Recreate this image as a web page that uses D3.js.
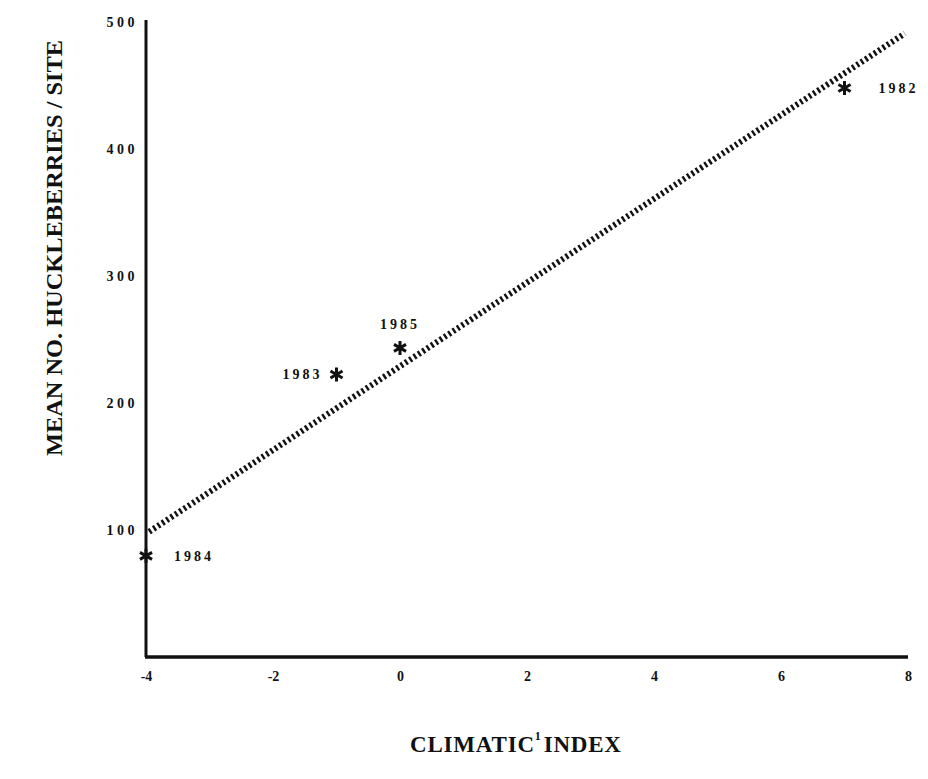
<!DOCTYPE html>
<html>
<head>
<meta charset="utf-8">
<script src="https://cdn.jsdelivr.net/npm/d3@7"></script>
<style>
  body { margin: 0; background: #fff; }
  svg { display: block; }
  text { font-family: "Liberation Serif", "Times New Roman", serif; font-weight: bold; fill: #111; }
</style>
</head>
<body>
<svg id="chart"></svg>
<script>
// observed years
const years = ["1984", "1983", "1985", "1982"];
const climIndex = [-4, -1, 0, 7];
const berries = [79, 222, 243, 448];

// fitted line ends
const fitX = [-3.95, 7.95];
const fitY = [98, 491];

const xTicks = [-4, -2, 0, 2, 4, 6, 8];
const yTicks = [100, 200, 300, 400, 500];

const width = 928;
const height = 779;

const x = d3.scaleLinear().domain([-4, 8]).range([146, 908]);
const y = d3.scaleLinear().domain([0, 500]).range([656, 22]);

const svg = d3.select("#chart")
    .attr("width", width)
    .attr("height", height);

// axes
const yAxis = g => g
    .attr("transform", `translate(${x(-4)},0)`)
    .call(d3.axisLeft(y).tickValues(yTicks).tickSize(0).tickPadding(8).tickSizeOuter(0))
    .call(g => g.select(".domain").attr("stroke", "#111").attr("stroke-width", 3)
        .attr("d", `M0,${y(0) + 1}V20`))
    .call(g => g.selectAll("text").attr("font-size", 14).attr("letter-spacing", 3.5)
        .attr("font-family", "Liberation Serif").attr("dy", "0.35em"));

const xAxis = g => g
    .attr("transform", `translate(0,${y(0) + 1})`)
    .call(d3.axisBottom(x).tickValues(xTicks).tickSize(0).tickPadding(14).tickFormat(d => String(d)))
    .call(g => g.select(".domain").attr("stroke", "#111").attr("stroke-width", 3.5)
        .attr("d", `M${x(-4) - 1},0H${x(8)}`))
    .call(g => g.selectAll("text").attr("font-size", 14).attr("font-family", "Liberation Serif"));

svg.append("g").call(yAxis);
svg.append("g").call(xAxis);

// regression line, heavy dotted
svg.append("line")
    .attr("x1", x(fitX[0])).attr("y1", y(fitY[0]))
    .attr("x2", x(fitX[1])).attr("y2", y(fitY[1]))
    .attr("stroke", "#111")
    .attr("stroke-width", 6)
    .attr("stroke-dasharray", "2.4,2.8");

// asterisk markers
const star = r => {
    let p = "";
    for (let i = 0; i < 3; i++) {
        const a = Math.PI / 2 + i * Math.PI / 3;
        p += `M${r * Math.cos(a)},${r * Math.sin(a)}L${-r * Math.cos(a)},${-r * Math.sin(a)}`;
    }
    return p;
};

const pts = years.map((yr, i) => ({ year: yr, cx: climIndex[i], cy: berries[i] }));

svg.append("g")
    .selectAll("path")
    .data(pts)
    .join("path")
    .attr("transform", d => `translate(${x(d.cx)},${y(d.cy)})`)
    .attr("d", star(7))
    .attr("stroke", "#111")
    .attr("stroke-width", 3);

// year labels
const labelOffset = {
    "1984": [28, 0, "start"],
    "1983": [-14, 0, "end"],
    "1985": [0, -24, "middle"],
    "1982": [34, 0, "start"]
};

svg.append("g")
    .selectAll("text")
    .data(pts)
    .join("text")
    .attr("x", d => x(d.cx) + labelOffset[d.year][0])
    .attr("y", d => y(d.cy) + labelOffset[d.year][1])
    .attr("dy", "0.35em")
    .attr("text-anchor", d => labelOffset[d.year][2])
    .attr("font-size", 14)
    .attr("letter-spacing", 3)
    .text(d => d.year);

// axis titles
svg.append("text")
    .attr("transform", "translate(62,248) rotate(-90)")
    .attr("text-anchor", "middle")
    .attr("font-size", 23)
    .attr("textLength", 416)
    .attr("lengthAdjust", "spacingAndGlyphs")
    .text("MEAN NO. HUCKLEBERRIES / SITE");

const xt = svg.append("text")
    .attr("x", 410)
    .attr("y", 752)
    .attr("font-size", 23)
    .attr("letter-spacing", 0.8);
xt.append("tspan").text("CLIMATIC");
xt.append("tspan").attr("font-size", 12).attr("dy", -12).text("1");
xt.append("tspan").attr("dy", 12).attr("dx", 2).text("INDEX");
</script>
</body>
</html>
